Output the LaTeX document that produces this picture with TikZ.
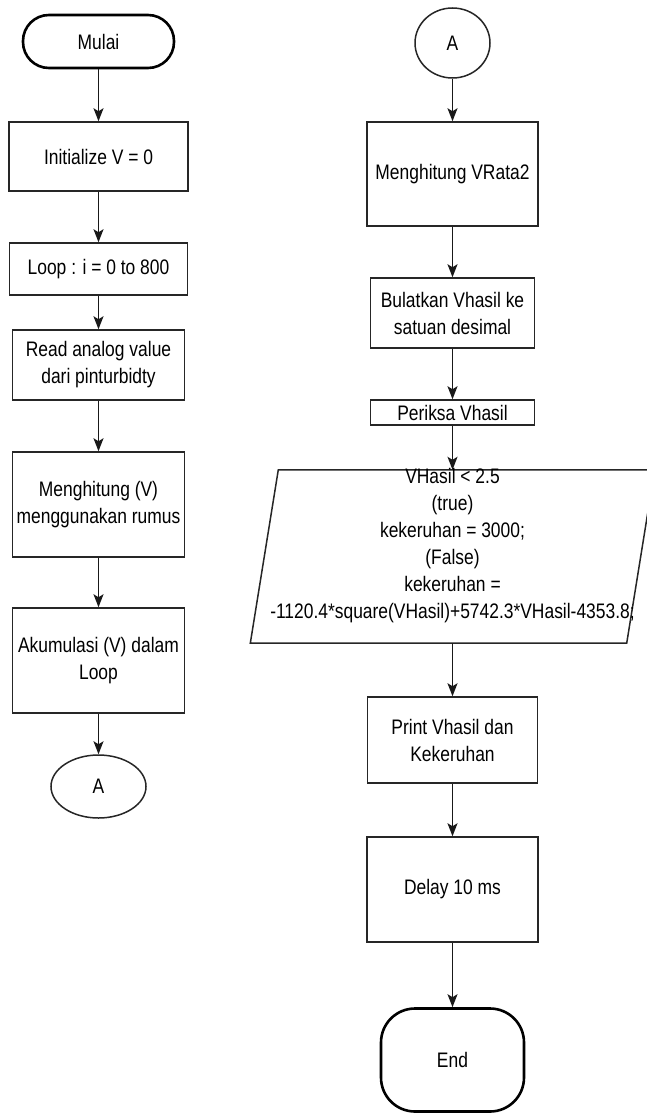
\documentclass[tikz,border=0pt]{standalone}
\usepackage{fontspec}
\setmainfont{Liberation Sans}[FakeStretch=0.83]
\usetikzlibrary{shapes.geometric,arrows.meta}
\begin{document}
\begin{tikzpicture}[x=1pt,y=-1pt,font=\fontsize{21}{27}\selectfont,
kbox/.style={draw=black!85,line width=1.5pt,rectangle,inner sep=0pt,align=center,minimum width=#1},
kterm/.style={draw=black,line width=2.6pt,inner sep=0pt},
kcon/.style={draw=black!85,line width=1.5pt,ellipse,inner sep=0pt},
karr/.style={-{Stealth[length=13pt,width=10pt,inset=3pt]},line width=1.4pt,black!90}]
\useasboundingbox (0,0) rectangle (647,1113);
\pgfmathsetmacro{\kcx}{98.5}
\pgfmathsetmacro{\kdx}{452.5}
\pgfmathsetmacro{\kmiring}{14}
% kolom kiri
\node[kterm,rounded corners=26pt,minimum width=151,minimum height=53](mulai) at (\kcx,41.5){Mulai};
\foreach \kn/\ky/\kw/\kh/\klb in {init/156.5/179/69/{Initialize V = 0},loop/269/178/52/{Loop : i = 0 to 800},read/365/172/70/{Read analog value\\dari pinturbidty},hitung/504.5/172/105/{Menghitung (V)\\menggunakan rumus},akum/660.5/172/105/{Akumulasi (V) dalam\\Loop}}{\node[kbox=\kw,minimum height=\kh](\kn) at (\kcx,\ky){\klb};}
\node[kcon,minimum width=95,minimum height=63](konA) at (\kcx,786.5){A};
\foreach \ka/\kb in {mulai/init,init/loop,loop/read,read/hitung,hitung/akum,akum/konA}{\draw[karr](\ka)--(\kb);}
% kolom kanan
\node[kcon,minimum width=75,minimum height=70](konB) at (\kdx,43){A};
\foreach \kn/\ky/\kw/\kh/\klb in {rata/174/171/104/{Menghitung VRata2},bulat/313/164/70/{Bulatkan Vhasil ke\\satuan desimal},periksa/412.5/164/25/{Periksa Vhasil},cetak/740/170/86/{Print Vhasil dan\\Kekeruhan},tunda/889.5/171/105/{Delay 10 ms}}{\node[kbox=\kw,minimum height=\kh](\kn) at (\kdx,\ky){\klb};}
\node[rectangle,inner sep=0pt,minimum width=376,minimum height=173](cek) at (\kdx,556.5){};
\draw[draw=black!85,line width=1.5pt]([xshift=\kmiring pt]cek.north west)--([xshift=\kmiring pt]cek.north east)--([xshift=-\kmiring pt]cek.south east)--([xshift=-\kmiring pt]cek.south west)--cycle;
\node[align=center,inner sep=0pt](cektxt) at (\kdx,545.5){VHasil < 2.5\\(true)\\kekeruhan = 3000;\\(False)\\kekeruhan =\\-1120.4*square(VHasil)+5742.3*VHasil-4353.8;};
\node[kterm,rounded corners=34pt,minimum width=143,minimum height=103](selesai) at (\kdx,1060){End};
\foreach \ka/\kb in {konB/rata,rata/bulat,bulat/periksa,periksa/cek,cek/cetak,cetak/tunda,tunda/selesai}{\draw[karr](\ka)--(\kb);}
\end{tikzpicture}
\end{document}
